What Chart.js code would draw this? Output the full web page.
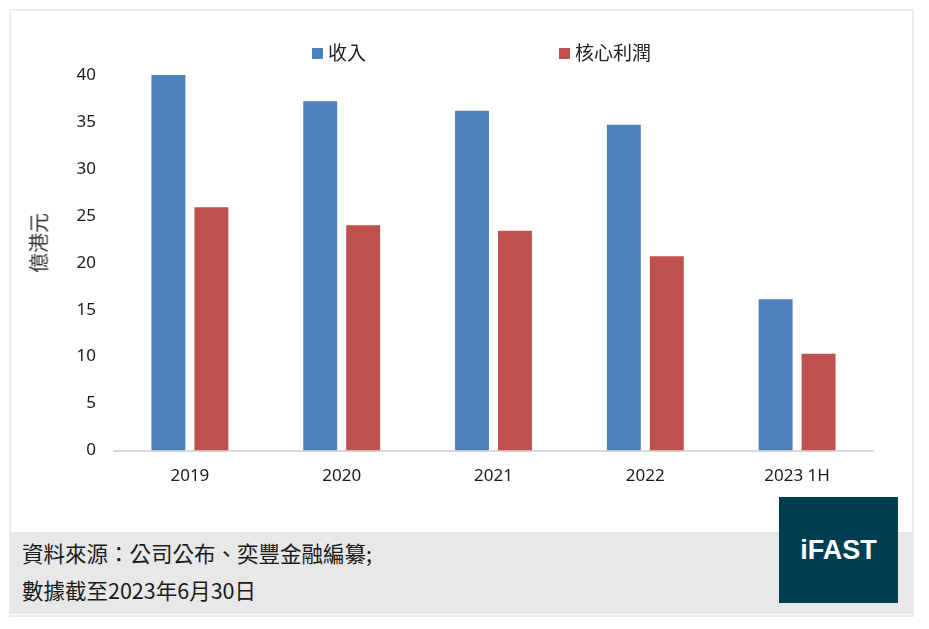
<!DOCTYPE html>
<html>
<head>
<meta charset="utf-8">
<script src="https://cdn.jsdelivr.net/npm/chart.js@4.4.0/dist/chart.umd.min.js"></script>
<style>
  html, body { margin: 0; padding: 0; background: #fff; width: 929px; height: 629px; overflow: hidden; }
  #frame { position: absolute; left: 9px; top: 9px; width: 901px; height: 604px; border: 2px solid #ececec; background: #fff; }
  #chartBox { position: absolute; left: 0; top: 0; width: 929px; height: 532px; }
  #band { position: absolute; left: 10px; top: 532px; width: 902px; height: 82px; background: #e8e8e8; }
  .src { position: absolute; left: 22px; font-family: "Noto Sans CJK TC", "Noto Sans CJK SC", sans-serif; font-size: 21.5px; color: #1a1a1a; white-space: nowrap; }
  #logo { position: absolute; left: 779px; top: 497px; width: 119px; height: 106px; background: #003f52; color: #fff;
          font-family: "Liberation Sans", Arial, sans-serif; font-weight: bold; font-size: 27px; text-align: center; line-height: 106px; }
  #ytitle { position: absolute; left: 38px; top: 243px; transform: translate(-50%, -50%) rotate(-90deg);
            font-family: "Noto Sans CJK TC", sans-serif; font-size: 20px; color: #333; white-space: nowrap; }
  .leg { position: absolute; top: 40px; font-family: "Noto Sans CJK TC", sans-serif; font-size: 19px; color: #222; white-space: nowrap; line-height: 24px; }
  .leg span { display: inline-block; width: 11px; height: 11px; margin-right: 5px; vertical-align: 1px; }
</style>
</head>
<body>
<div id="frame"></div>
<div id="chartBox"><canvas id="barChart" width="929" height="532"></canvas></div>
<div id="ytitle">億港元</div>
<div id="legend"></div>
<div id="band"></div>
<div class="src" style="top:537px">資料來源：公司公布、奕豐金融編纂;</div>
<div class="src" style="top:574px">數據截至2023年6月30日</div>
<div id="logo">iFAST</div>
<script>
const categories = ['2019', '2020', '2021', '2022', '2023 1H']
const revenue = [40.0, 37.2, 36.2, 34.7, 16.1]
const coreProfit = [25.9, 24.0, 23.4, 20.7, 10.3]
const seriesNames = ['收入', '核心利潤']
const seriesColors = ['#4f81bd', '#c0504d']
const legendX = [312, 559]

// legend drawn as html so the wide gap between the two items can be kept
const legendBox = document.getElementById('legend')
seriesNames.forEach((name, i) => {
    const item = document.createElement('div')
    item.className = 'leg'
    item.style.left = legendX[i] + 'px'
    item.innerHTML = '<span style="background:' + seriesColors[i] + '"></span>' + name
    legendBox.appendChild(item)
})

const tickFont = { family: '"Noto Sans", sans-serif', size: 17 }

const ctx = document.getElementById('barChart')
var bar_chart = new Chart(ctx, {
    type: 'bar',
    data: {
        labels: categories,
        datasets: [
            { label: seriesNames[0], data: revenue, backgroundColor: seriesColors[0] },
            { label: seriesNames[1], data: coreProfit, backgroundColor: seriesColors[1] }
        ]
    },
    options: {
        responsive: false,
        maintainAspectRatio: false,
        animation: false,
        devicePixelRatio: 1,
        categoryPercentage: 0.566,
        barPercentage: 0.79,
        layout: { padding: { left: 14, right: 56, top: 75, bottom: 41.5 } },
        plugins: { legend: { display: false }, tooltip: { enabled: false } },
        scales: {
            x: {
                grid: { display: false, drawTicks: false },
                border: { display: true, color: '#d9d9d9', width: 2 },
                ticks: { font: tickFont, color: '#1a1a1a', padding: 15 },
                afterFit: (s) => { s.height = 40 }
            },
            y: {
                min: 0,
                max: 40,
                grid: { display: false, drawTicks: false },
                border: { display: false },
                ticks: { stepSize: 5, font: tickFont, color: '#1a1a1a', padding: 18 },
                afterFit: (s) => { s.width = 100 }
            }
        }
    }
})
</script>
</body>
</html>
